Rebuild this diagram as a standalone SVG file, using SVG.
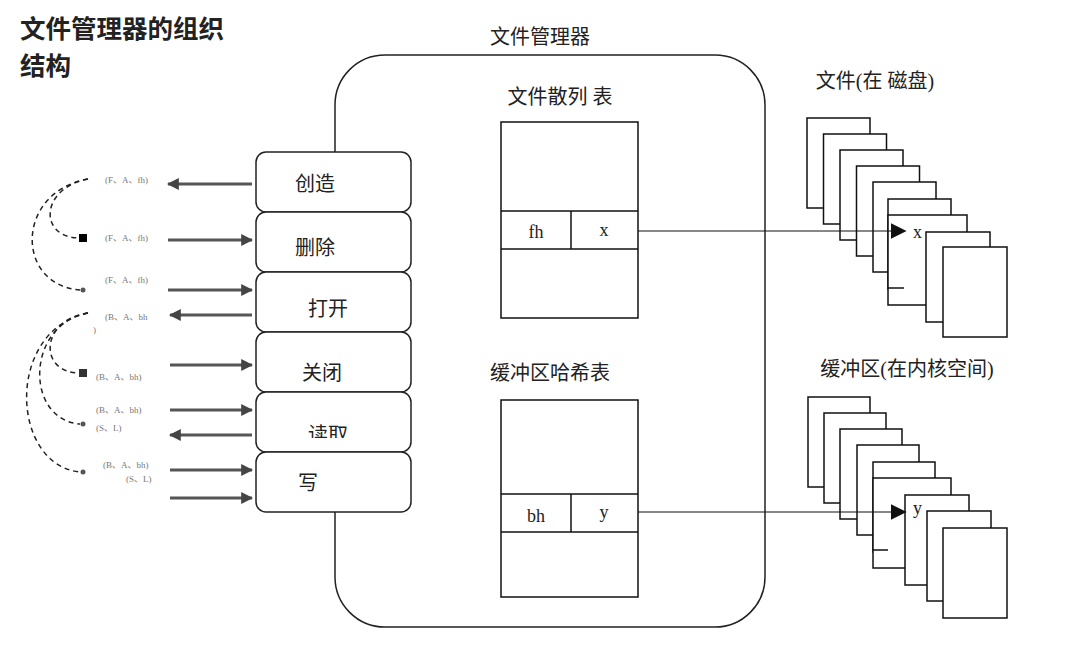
<svg xmlns="http://www.w3.org/2000/svg" width="1080" height="650" viewBox="0 0 1080 650">
<defs>
<style>
.t{font-family:"Liberation Serif","Noto Sans CJK SC",serif;fill:#222}
.s{font-family:"Liberation Serif","Noto Sans CJK SC",serif;font-size:9px;fill:#777}
.b{fill:#fff;stroke:#222;stroke-width:1.5}
.p{fill:#fff;stroke:#111;stroke-width:1.5}
.ga{stroke:#555;stroke-width:3;fill:none}
.d{stroke:#222;stroke-width:1.5;fill:none;stroke-dasharray:5,4}
</style>
<marker id="ah" viewBox="0 0 10 10" refX="9" refY="5" markerWidth="4" markerHeight="4" orient="auto"><path d="M0,0L10,5L0,10z" fill="#444"/></marker>
<marker id="bh" viewBox="0 0 10 10" refX="9" refY="5" markerWidth="16" markerHeight="16" markerUnits="userSpaceOnUse" orient="auto"><path d="M0,0L10,5L0,10z" fill="#111"/></marker>
<clipPath id="c5"><rect x="256" y="392" width="155" height="46"/></clipPath>
</defs>
<text class="t" x="20" y="38" font-size="25.5" font-weight="bold" style="font-family:'Noto Sans CJK SC',sans-serif">文件管理器的组织</text>
<text class="t" x="20" y="75" font-size="25.5" font-weight="bold" style="font-family:'Noto Sans CJK SC',sans-serif">结构</text>
<g id="manager">
<rect x="335" y="55" width="430" height="572" rx="50" class="b"/>
<text class="t" x="540" y="44" font-size="20" text-anchor="middle">文件管理器</text>
</g>
<g id="ops">
<rect x="256" y="152" width="155" height="60" rx="10" class="b"/><text class="t" x="315" y="191" font-size="20" text-anchor="middle">创造</text>
<rect x="256" y="212" width="155" height="60" rx="10" class="b"/><text class="t" x="315" y="255" font-size="20" text-anchor="middle">删除</text>
<rect x="256" y="272" width="155" height="60" rx="10" class="b"/><text class="t" x="328" y="316" font-size="20" text-anchor="middle">打开</text>
<rect x="256" y="332" width="155" height="60" rx="10" class="b"/><text class="t" x="322" y="380" font-size="20" text-anchor="middle">关闭</text>
<rect x="256" y="392" width="155" height="60" rx="10" class="b"/><text class="t" x="328" y="442" font-size="20" text-anchor="middle" clip-path="url(#c5)">读取</text>
<rect x="256" y="452" width="155" height="60" rx="10" class="b"/><text class="t" x="308" y="490" font-size="20" text-anchor="middle">写</text>
</g>
<g id="fileHash">
<text class="t" x="560" y="104" font-size="20" text-anchor="middle">文件散列 表</text>
<rect x="501" y="122" width="137" height="196" class="p"/>
<line x1="501" y1="211" x2="638" y2="211" stroke="#111" stroke-width="1.5"/>
<line x1="501" y1="249" x2="638" y2="249" stroke="#111" stroke-width="1.5"/>
<line x1="571" y1="211" x2="571" y2="249" stroke="#111" stroke-width="1.5"/>
<text class="t" x="536" y="238" font-size="18" text-anchor="middle">fh</text>
<text class="t" x="604" y="236" font-size="18" text-anchor="middle">x</text>
</g>
<g id="bufHash">
<text class="t" x="550" y="380" font-size="20" text-anchor="middle">缓冲区哈希表</text>
<rect x="501" y="400" width="137" height="197" class="p"/>
<line x1="501" y1="494" x2="638" y2="494" stroke="#111" stroke-width="1.5"/>
<line x1="501" y1="532" x2="638" y2="532" stroke="#111" stroke-width="1.5"/>
<line x1="571" y1="494" x2="571" y2="532" stroke="#111" stroke-width="1.5"/>
<text class="t" x="536" y="522" font-size="18" text-anchor="middle">bh</text>
<text class="t" x="604" y="518" font-size="18" text-anchor="middle">y</text>
</g>
<g id="files">
<text class="t" x="875" y="88" font-size="20" text-anchor="middle">文件(在  磁盘)</text>
<rect x="807" y="118" width="63" height="90" class="p"/>
<rect x="823.5" y="134" width="63" height="90" class="p"/>
<rect x="840" y="150" width="63" height="90" class="p"/>
<rect x="856.5" y="166" width="63" height="90" class="p"/>
<rect x="873" y="182" width="63" height="90" class="p"/>
<rect x="888" y="199" width="63" height="90" class="p"/>
<rect x="888" y="215" width="79" height="90" class="p"/>
<line x1="888" y1="288" x2="904" y2="288" stroke="#111" stroke-width="1.5"/>
<rect x="926" y="232" width="64" height="90" class="p"/>
<rect x="943" y="247" width="64" height="90" class="p"/>
<text class="t" x="913" y="238" font-size="18">x</text>
</g>
<g id="buffers">
<text class="t" x="907" y="376" font-size="20" text-anchor="middle">缓冲区(在内核空间)</text>
<rect x="808" y="397" width="62" height="90" class="p"/>
<rect x="824" y="413" width="62" height="90" class="p"/>
<rect x="840" y="429" width="62" height="90" class="p"/>
<rect x="857" y="445" width="62" height="90" class="p"/>
<rect x="873" y="462" width="62" height="90" class="p"/>
<rect x="873" y="478" width="78" height="90" class="p"/>
<line x1="873" y1="550" x2="888" y2="550" stroke="#111" stroke-width="1.5"/>
<rect x="905" y="495" width="64" height="90" class="p"/>
<rect x="927" y="511" width="64" height="90" class="p"/>
<rect x="943" y="528" width="64" height="90" class="p"/>
<text class="t" x="913" y="514" font-size="18">y</text>
</g>
<g id="connectors">
<line x1="638" y1="231" x2="905" y2="231" stroke="#111" stroke-width="1.2" marker-end="url(#bh)"/>
<line x1="638" y1="512" x2="905" y2="512" stroke="#111" stroke-width="1.2" marker-end="url(#bh)"/>
<line x1="252" y1="184" x2="168" y2="184" class="ga" marker-end="url(#ah)"/>
<line x1="168" y1="240" x2="252" y2="240" class="ga" marker-end="url(#ah)"/>
<line x1="168" y1="290" x2="252" y2="290" class="ga" marker-end="url(#ah)"/>
<line x1="252" y1="315" x2="170" y2="315" class="ga" marker-end="url(#ah)"/>
<line x1="170" y1="365" x2="252" y2="365" class="ga" marker-end="url(#ah)"/>
<line x1="170" y1="410" x2="252" y2="410" class="ga" marker-end="url(#ah)"/>
<line x1="252" y1="435" x2="170" y2="435" class="ga" marker-end="url(#ah)"/>
<line x1="170" y1="470" x2="252" y2="470" class="ga" marker-end="url(#ah)"/>
<line x1="170" y1="498" x2="252" y2="498" class="ga" marker-end="url(#ah)"/>
<path class="d" d="M88,179 C40,188 38,238 80,238"/>
<path class="d" d="M88,179 C15,192 15,285 80,290"/>
<path class="d" d="M88,313 C40,320 38,373 80,373"/>
<path class="d" d="M88,313 C25,325 25,420 80,424"/>
<path class="d" d="M88,313 C5,330 10,465 80,472"/>
<rect x="79" y="234" width="8" height="8" fill="#000"/>
<rect x="79" y="369" width="8" height="8" fill="#333"/>
<circle cx="83" cy="290" r="2.5" fill="#555"/>
<circle cx="83" cy="424" r="2.5" fill="#555"/>
<circle cx="83" cy="472" r="2.5" fill="#555"/>
</g>
<g id="labels">
<text class="s" x="105" y="183">(F、A、fh)</text>
<text class="s" x="105" y="241">(F、A、fh)</text>
<text class="s" x="105" y="283">(F、A、fh)</text>
<text class="s" x="105" y="320">(B、A、bh</text>
<text class="s" x="93" y="333">)</text>
<text class="s" x="96" y="380">(B、A、bh)</text>
<text class="s" x="96" y="413">(B、A、bh)</text>
<text class="s" x="96" y="431">(S、L)</text>
<text class="s" x="103" y="468">(B、A、bh)</text>
<text class="s" x="126" y="482">(S、L)</text>
</g>
</svg>
